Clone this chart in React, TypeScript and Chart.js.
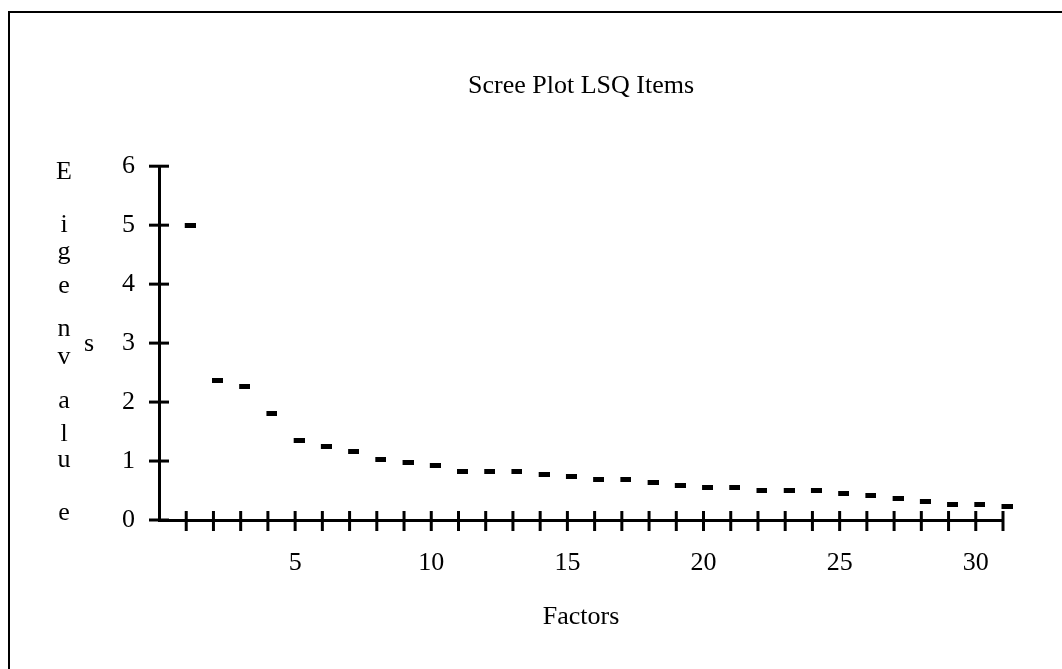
import React, { useEffect, useRef } from "react";
import { Chart, registerables } from "chart.js";

Chart.register(...registerables);

// ---- data ----
const factors = [
  1, 2, 3, 4, 5, 6, 7, 8, 9, 10, 11, 12, 13, 14, 15, 16, 17, 18, 19, 20, 21,
  22, 23, 24, 25, 26, 27, 28, 29, 30, 31,
];
const eigenvalues = [
  5.0, 2.36, 2.27, 1.8, 1.34, 1.25, 1.16, 1.02, 0.97, 0.93, 0.83, 0.83, 0.83,
  0.78, 0.73, 0.69, 0.69, 0.64, 0.59, 0.55, 0.55, 0.5, 0.5, 0.5, 0.45, 0.41,
  0.36, 0.32, 0.27, 0.27, 0.23,
];
const xTickLabels = [5, 10, 15, 20, 25, 30];
const yTicks = [0, 1, 2, 3, 4, 5, 6];
const yTitleLetters = ["E", "i", "g", "e", "n", "v", "a", "l", "u", "e"];
const yTitleExtra = "s";
const chartTitle = "Scree Plot LSQ Items";
const xTitle = "Factors";

// ---- styling ----
const FONT = "'Liberation Serif', 'Times New Roman', serif";
const FONT_SIZE = 26;
const letterBaselines = [179, 232, 259, 293, 336, 364, 408, 441, 467, 520];
const letterX = 64;
const extraX = 89;
const extraBaseline = 351;

const axisDecor = {
  id: "axisDecor",
  afterDraw(chart: any) {
    const { ctx } = chart;
    const xs = chart.scales.x;
    const ys = chart.scales.y;
    ctx.save();
    ctx.strokeStyle = "#000";
    ctx.lineWidth = 3;
    const x0 = xs.getPixelForValue(0);
    const y0 = ys.getPixelForValue(0);
    for (const v of yTicks) {
      const py = ys.getPixelForValue(v);
      ctx.beginPath();
      ctx.moveTo(x0 - 10, py);
      ctx.lineTo(x0 + 10, py);
      ctx.stroke();
    }
    for (const f of factors) {
      const px = xs.getPixelForValue(f);
      ctx.beginPath();
      ctx.moveTo(px, y0 - 9);
      ctx.lineTo(px, y0 + 11);
      ctx.stroke();
    }
    ctx.fillStyle = "#000";
    ctx.font = `${FONT_SIZE}px ${FONT}`;
    ctx.textAlign = "center";
    ctx.textBaseline = "alphabetic";
    yTitleLetters.forEach((ch, i) => {
      ctx.fillText(ch, letterX, letterBaselines[i]);
    });
    ctx.fillText(yTitleExtra, extraX, extraBaseline);
    ctx.restore();
  },
};

export default function App() {
  const ref = useRef<HTMLCanvasElement | null>(null);

  useEffect(() => {
    if (!ref.current) return;
    const dash = document.createElement("canvas");
    dash.width = 19;
    dash.height = 5;
    const dctx = dash.getContext("2d")!;
    dctx.fillStyle = "#000";
    dctx.fillRect(8, 0, 11, 5);

    const chart = new Chart(ref.current, {
      type: "scatter",
      data: {
        datasets: [
          {
            data: factors.map((f, i) => ({ x: f, y: eigenvalues[i] })),
            pointStyle: dash as any,
            pointRadius: 6,
            showLine: false,
            clip: false as any,
          },
        ],
      },
      options: {
        animation: false,
        responsive: false,
        devicePixelRatio: 1,
        layout: { padding: { left: 0, right: 59, top: 0, bottom: 0 } },
        plugins: {
          legend: { display: false },
          tooltip: { enabled: false },
          title: {
            display: true,
            text: chartTitle,
            color: "#000",
            fullSize: false,
            font: { family: FONT, size: FONT_SIZE, weight: "normal" as any },
            padding: { top: 71, bottom: 64 },
          },
        },
        scales: {
          x: {
            type: "linear",
            min: 0,
            max: 31,
            grid: { display: false, drawTicks: false },
            border: { display: true, color: "#000", width: 3 },
            ticks: {
              stepSize: 1,
              autoSkip: false,
              maxRotation: 0,
              padding: 28,
              color: "#000",
              font: { family: FONT, size: FONT_SIZE },
              callback: (v: any) => (xTickLabels.includes(Number(v)) ? String(v) : ""),
            },
            title: {
              display: true,
              text: xTitle,
              color: "#000",
              font: { family: FONT, size: FONT_SIZE },
              padding: { top: 0, bottom: 36 },
            },
            afterFit: (s: any) => {
              s.height = 149;
            },
          },
          y: {
            min: 0,
            max: 6,
            grid: { display: false, drawTicks: false },
            border: { display: true, color: "#000", width: 3 },
            ticks: {
              stepSize: 1,
              padding: 24,
              color: "#000",
              font: { family: FONT, size: FONT_SIZE },
            },
            afterFit: (s: any) => {
              s.width = 159;
            },
          },
        },
      },
      plugins: [axisDecor],
    });
    return () => chart.destroy();
  }, []);

  return (
    <div
      style={{
        position: "absolute",
        left: 0,
        top: 0,
        width: 1062,
        height: 669,
        background: "#fff",
        overflow: "hidden",
      }}
    >
      <div
        style={{
          position: "absolute",
          left: 8,
          top: 11,
          width: 1054,
          height: 658,
          borderLeft: "2px solid #000",
          borderTop: "2px solid #000",
          boxSizing: "border-box",
        }}
      />
      <canvas
        ref={ref}
        width={1062}
        height={669}
        style={{ position: "absolute", left: 0, top: 0, width: 1062, height: 669 }}
      />
    </div>
  );
}
